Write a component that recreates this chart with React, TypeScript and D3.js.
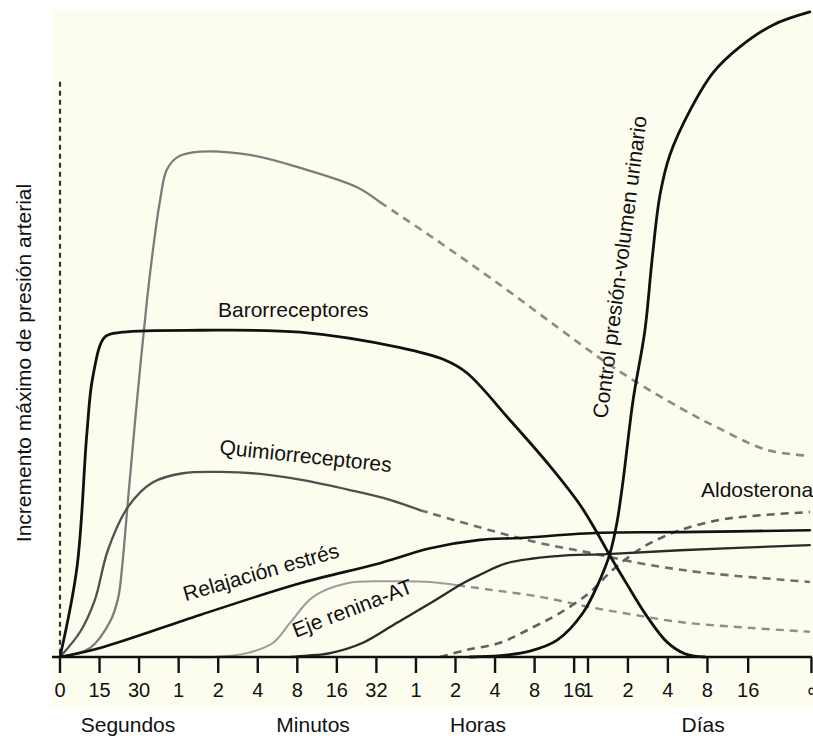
import React from 'react';
import * as d3 from 'd3';

type Pt = [number, number];

// x: posición en la escala temporal (0 = 0 s, cada marca = duplicación), y: % del incremento máximo
const tickPositions = [0, 1, 2, 3, 4, 5, 6, 7, 8, 9, 10, 11, 12, 13, 13.35, 14.36, 15.37, 16.37, 17.4, 19.08];
const tickLabels = ['0', '15', '30', '1', '2', '4', '8', '16', '32', '1', '2', '4', '8', '16', '1', '2', '4', '8', '16', '∞'];
const groupLabels = ['Segundos', 'Minutos', 'Horas', 'Días'];
const groupCenters = [1.72, 6.4, 10.57, 16.26];

const baroreceptores: Pt[] = [[0, 0], [0.43, 13.9], [0.68, 34.6], [0.83, 43.3], [1.14, 49.5], [1.59, 50.2], [3.54, 50.5], [6.07, 50.2], [8.6, 47.8], [9.73, 45.9], [10.29, 43.9], [11.38, 36.6], [12.39, 29.5], [13.15, 23.5], [13.58, 19.2], [13.91, 15.6], [14.33, 11.3], [14.84, 6.3], [15.35, 2.3], [15.8, 0.5], [16.3, 0]];
const isquemiaSNC: Pt[] = [[0, 0], [0.76, 1.4], [1.26, 5.4], [1.47, 9.1], [1.57, 13.9], [1.72, 24.3], [1.9, 36.6], [2.2, 55.2], [2.35, 62.9], [2.53, 70.6], [2.7, 75.3], [2.98, 77.3], [3.54, 78.1], [4.8, 77.6], [6.07, 75.6], [7.51, 72.6], [8.09, 70.3]];
const isquemiaSNCFin: Pt[] = [[8.09, 70.3], [9.43, 64.8], [11.13, 57.5], [12.57, 51.0], [13.65, 46.2], [14.49, 42.8], [15.68, 38.5], [16.61, 35.5], [17.88, 32.0], [18.96, 31.1]];
const quimiorreceptores: Pt[] = [[0, 0], [0.51, 3.9], [0.88, 8.8], [1.21, 16.5], [1.72, 23.2], [2.35, 27.0], [3.11, 28.4], [4.05, 28.6], [5.06, 28.3], [6.07, 27.4], [7.33, 25.8], [8.34, 24.3], [9.1, 22.7]];
const quimiorreceptoresFin: Pt[] = [[9.1, 22.7], [10.87, 19.6], [12.14, 17.6], [13.4, 16.1], [14.66, 14.5], [16.18, 13.1], [18.96, 11.6]];
const relajacion: Pt[] = [[0, 0], [1.01, 1.4], [3.54, 6.5], [6.07, 11.4], [8.09, 14.5], [9.36, 16.8], [10.62, 18.1], [11.63, 18.4], [13.65, 19.2], [15.68, 19.3], [18.96, 19.6]];
const reninaAT: Pt[] = [[3.29, 0], [3.87, 0], [4.73, 0.6], [5.39, 2.2], [5.82, 5.3], [6.4, 9.3], [7.26, 11.4], [8.27, 11.7], [9.36, 11.6], [10.04, 11.1]];
const reninaATFin: Pt[] = [[10.04, 11.1], [10.87, 10.4], [12.14, 9.3], [13.4, 7.7], [14.24, 6.8], [15.68, 5.4], [17.45, 4.5], [18.96, 3.9]];
const vasoconstriccion: Pt[] = [[5.82, 0], [6.25, 0.2], [6.83, 0.6], [7.66, 2.2], [8.52, 5.3], [9.36, 8.3], [10.19, 11.4], [10.62, 12.7], [11.3, 14.5], [12.57, 15.6], [13.83, 15.9], [15.68, 16.5], [18.96, 17.3]];
const aldosterona: Pt[] = [[9.61, 0], [10.29, 1.1], [11.13, 2.2], [11.96, 4.6], [12.64, 6.8], [13.4, 10.0], [13.91, 13.1], [14.41, 15.6], [14.92, 17.6], [15.68, 19.6], [16.69, 21.2], [17.7, 21.9], [18.96, 22.4]];
const controlRenal: Pt[] = [[10.37, 0], [11.13, 0.2], [11.88, 0.9], [12.57, 2.6], [13.22, 6.8], [13.65, 11.9], [13.91, 16.1], [14.08, 20.7], [14.24, 27.4], [14.49, 39.7], [14.79, 50.5], [14.97, 61.4], [15.17, 71.4], [15.42, 77.6], [15.93, 84.5], [16.51, 90.3], [17.19, 94.3], [18.03, 97.7], [18.96, 99.7]];
const lineaInicio: Pt[] = [[0, 88.9], [0, 0]];

const WIDTH = 813;
const HEIGHT = 740;
const FONT = 'Liberation Sans, Arial, sans-serif';

const x = d3.scaleLinear().domain([0, 19]).range([60, 811.45]);
const y = d3.scaleLinear().domain([0, 100]).range([657, 10]);

const line = d3.line<Pt>()
    .x(d => x(d[0]))
    .y(d => y(d[1]))
    .curve(d3.curveCatmullRom.alpha(0.5));

const straight = d3.line<Pt>().x(d => x(d[0])).y(d => y(d[1]));

const series = [
    { data: isquemiaSNC, stroke: '#7c7c7c', width: 2.3, dash: undefined },
    { data: isquemiaSNCFin, stroke: '#8a8a8a', width: 2.6, dash: '8,6' },
    { data: quimiorreceptores, stroke: '#505050', width: 2.3, dash: undefined },
    { data: quimiorreceptoresFin, stroke: '#6e6e6e', width: 2.6, dash: '8,6' },
    { data: reninaAT, stroke: '#9c9c9c', width: 2, dash: undefined },
    { data: reninaATFin, stroke: '#8e8e8e', width: 2.4, dash: '8,6' },
    { data: aldosterona, stroke: '#606060', width: 2.6, dash: '8,6' },
    { data: vasoconstriccion, stroke: '#2a2a2a', width: 2.3, dash: undefined },
    { data: relajacion, stroke: '#111', width: 2.6, dash: undefined },
    { data: baroreceptores, stroke: '#111', width: 2.8, dash: undefined },
    { data: controlRenal, stroke: '#111', width: 2.8, dash: undefined },
];

const curveLabels = [
    { text: 'Barorreceptores', x: 218, y: 317, angle: 0, anchor: 'start' },
    { text: 'Quimiorreceptores', x: 305, y: 463, angle: 6, anchor: 'middle' },
    { text: 'Relajación estrés', x: 263, y: 579, angle: -16, anchor: 'middle' },
    { text: 'Eje renina-AT', x: 355, y: 615, angle: -21, anchor: 'middle' },
    { text: 'Control presión-volumen urinario', x: 627, y: 268, angle: -82.5, anchor: 'middle' },
    { text: 'Aldosterona', x: 701, y: 497, angle: 0, anchor: 'start' },
];

const App: React.FC = () => {
    return (
        <svg
            width={WIDTH}
            height={HEIGHT}
            style={{ position: 'absolute', left: 0, top: 0, background: '#fff' }}
            fontFamily={FONT}
        >
            <rect x={52} y={10} width={WIDTH - 52} height={697} fill="#fcfcef" />

            <path d={straight(lineaInicio) || ''} stroke="#333" strokeWidth={2.2} strokeDasharray="5,4" fill="none" />

            {series.map((s, i) => (
                <path
                    key={i}
                    d={line(s.data) || ''}
                    fill="none"
                    stroke={s.stroke}
                    strokeWidth={s.width}
                    strokeDasharray={s.dash}
                    strokeLinecap={s.dash ? 'butt' : 'round'}
                />
            ))}

            {/* eje x */}
            <line x1={52} x2={812} y1={y(0)} y2={y(0)} stroke="#111" strokeWidth={2.6} />
            {tickPositions.map((t, i) => (
                <g key={i} transform={`translate(${x(t)},${y(0)})`}>
                    {i < tickPositions.length - 1 && (
                        <line y1={0} y2={16} stroke="#111" strokeWidth={2.4} />
                    )}
                    <text y={40} textAnchor="middle" fontSize={20} fill="#111">{tickLabels[i]}</text>
                </g>
            ))}
            <line x1={x(19)} x2={x(19)} y1={y(0)} y2={y(0) + 16} stroke="#111" strokeWidth={2.4} />

            {groupLabels.map((g, i) => (
                <text key={g} x={x(groupCenters[i])} y={732} textAnchor="middle" fontSize={21} fill="#111">{g}</text>
            ))}

            <text
                transform="translate(31,363) rotate(-90)"
                textAnchor="middle"
                fontSize={21}
                fill="#111"
            >
                Incremento máximo de presión arterial
            </text>

            {curveLabels.map(l => (
                <text
                    key={l.text}
                    transform={`translate(${l.x},${l.y}) rotate(${l.angle})`}
                    textAnchor={l.anchor}
                    fontSize={21}
                    fill="#111"
                >
                    {l.text}
                </text>
            ))}
        </svg>
    );
};

export default App;
